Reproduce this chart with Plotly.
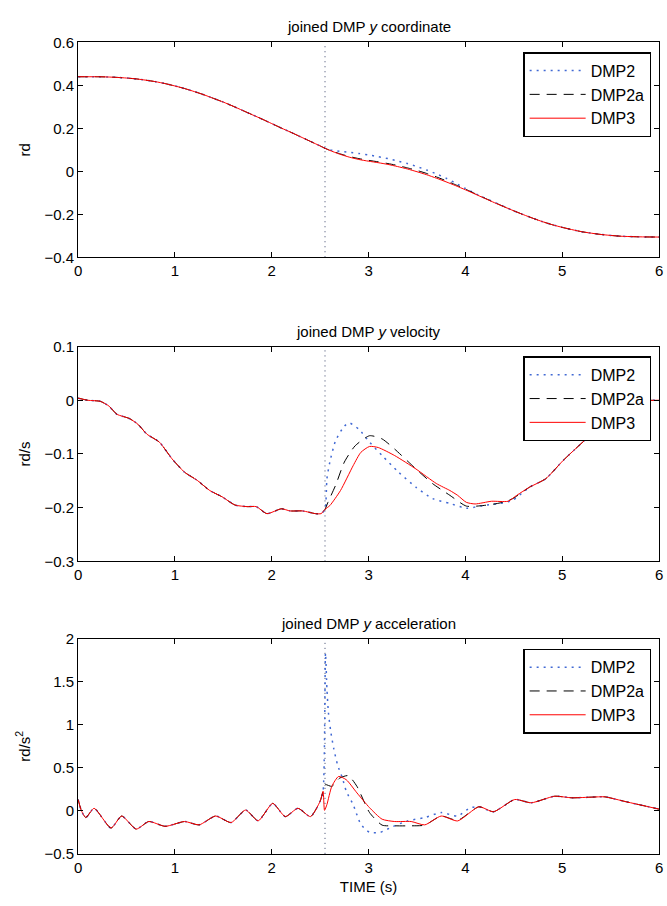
import plotly.graph_objects as go
from plotly.subplots import make_subplots

JOIN_TIME = 2.55
SERIES = ["DMP2", "DMP2a", "DMP3"]
TITLES = ["joined DMP <i>y</i> coordinate", "joined DMP <i>y</i> velocity",
          "joined DMP <i>y</i> acceleration"]
Y_LABELS = ["rd", "rd/s", "rd/s<sup>2</sup>"]
X_LABEL = "TIME (s)"

# ---------------- position (rd) ----------------
T_POS_PRE = [0, 0.1, 0.2, 0.3, 0.4, 0.5, 0.6, 0.7, 0.8, 0.9, 1.0, 1.1, 1.2, 1.3, 1.4,
             1.5, 1.6, 1.7, 1.8, 1.9, 2.0, 2.1, 2.2, 2.3, 2.4, 2.5]
POS_PRE = [0.440, 0.440, 0.440, 0.439, 0.437, 0.434, 0.430, 0.424, 0.417, 0.408, 0.397,
           0.385, 0.371, 0.356, 0.339, 0.322, 0.303, 0.283, 0.263, 0.243, 0.222, 0.201,
           0.181, 0.160, 0.139, 0.118]
T_POS_POST = [2.55, 2.6, 2.7, 2.8, 2.9, 3.0, 3.1, 3.2, 3.3, 3.4, 3.5, 3.6, 3.7, 3.8, 3.9,
              4.0, 4.1, 4.2, 4.3, 4.4, 4.5, 4.6, 4.7, 4.8, 4.9, 5.0, 5.2, 5.4, 5.6, 5.8, 6.0]
POS_DMP2_POST = [0.107, 0.100, 0.093, 0.088, 0.083, 0.076, 0.068, 0.059, 0.048, 0.036,
                 0.022, 0.006, -0.012, -0.032, -0.055, -0.080, -0.103, -0.124, -0.144,
                 -0.164, -0.184, -0.202, -0.219, -0.235, -0.249, -0.261, -0.281, -0.294,
                 -0.302, -0.305, -0.306]
POS_DMP2A_POST = [0.107, 0.098, 0.082, 0.069, 0.059, 0.051, 0.044, 0.036, 0.027, 0.016,
                  0.004, -0.010, -0.026, -0.044, -0.063, -0.083, -0.104, -0.125, -0.145,
                  -0.165, -0.184, -0.202, -0.219, -0.235, -0.249, -0.261, -0.281, -0.294,
                  -0.302, -0.305, -0.306]
POS_DMP3_POST = [0.107, 0.097, 0.080, 0.066, 0.055, 0.047, 0.040, 0.032, 0.022, 0.011,
                 -0.002, -0.016, -0.032, -0.049, -0.067, -0.086, -0.106, -0.126, -0.146,
                 -0.165, -0.184, -0.202, -0.219, -0.235, -0.249, -0.261, -0.281, -0.294,
                 -0.302, -0.305, -0.306]

# ---------------- velocity (rd/s) ----------------
T_VEL_PRE = [0, 0.1, 0.23, 0.32, 0.4, 0.53, 0.62, 0.71, 0.84, 0.97, 1.1, 1.23, 1.36, 1.49,
             1.62, 1.75, 1.84, 1.95, 2.1, 2.19, 2.32, 2.45, 2.51]
VEL_PRE = [0.004, 0.0, -0.002, -0.011, -0.026, -0.034, -0.045, -0.063, -0.078, -0.109,
           -0.134, -0.149, -0.168, -0.180, -0.195, -0.198, -0.198, -0.211, -0.202, -0.206,
           -0.206, -0.211, -0.211]
T_VEL_TAIL = [4.66, 4.83, 5.01, 5.23, 5.49, 5.62, 5.75, 6.0]
VEL_TAIL = [-0.162, -0.146, -0.112, -0.075, -0.035, -0.013, -0.002, 0.0]
T_VEL_DMP2_POST = [2.55, 2.57, 2.6, 2.66, 2.75, 2.8, 2.9, 3.01, 3.14, 3.31, 3.49, 3.66,
                   3.84, 4.01, 4.18, 4.36, 4.49]
VEL_DMP2_POST = [-0.203, -0.146, -0.115, -0.075, -0.048, -0.042, -0.054, -0.078, -0.103,
                 -0.134, -0.162, -0.183, -0.192, -0.201, -0.196, -0.192, -0.186]
T_VEL_DMP2A_POST = [2.55, 2.58, 2.66, 2.75, 2.86, 3.01, 3.14, 3.27, 3.49, 3.66, 3.84,
                    4.01, 4.18, 4.36, 4.49]
VEL_DMP2A_POST = [-0.203, -0.190, -0.158, -0.115, -0.085, -0.066, -0.072, -0.091, -0.128,
                  -0.155, -0.177, -0.197, -0.196, -0.191, -0.183]
T_VEL_DMP3_POST = [2.55, 2.6, 2.71, 2.84, 2.92, 3.01, 3.1, 3.27, 3.49, 3.7, 3.84, 3.92,
                   4.01, 4.1, 4.27, 4.44, 4.53]
VEL_DMP3_POST = [-0.203, -0.196, -0.168, -0.122, -0.097, -0.086, -0.088, -0.103, -0.128,
                 -0.155, -0.168, -0.177, -0.190, -0.193, -0.188, -0.188, -0.177]

# ---------------- acceleration (rd/s^2) ----------------
T_ACC_PRE = [0, 0.035, 0.08, 0.165, 0.34, 0.45, 0.6, 0.73, 0.9, 1.1, 1.25, 1.42, 1.58,
             1.73, 1.86, 2.01, 2.14, 2.27, 2.4, 2.5, 2.53]
ACC_PRE = [0.132, 0.0, -0.078, 0.03, -0.2, -0.06, -0.212, -0.124, -0.18, -0.124, -0.163,
           -0.06, -0.136, 0.01, -0.116, 0.087, -0.067, 0.03, -0.067, 0.113, 0.228]
T_ACC_TAIL = [4.29, 4.51, 4.68, 4.92, 5.1, 5.31, 5.44, 5.66, 6.0]
ACC_TAIL = [-0.01, 0.132, 0.094, 0.17, 0.152, 0.16, 0.163, 0.106, 0.02]
T_ACC_DMP2_POST = [2.555, 2.57, 2.585, 2.61, 2.64, 2.68, 2.73, 2.77, 2.84, 2.92, 3.01,
                   3.12, 3.23, 3.4, 3.58, 3.75, 3.92, 4.05, 4.14]
ACC_DMP2_POST = [1.835, 1.415, 1.147, 0.917, 0.726, 0.534, 0.381, 0.228, 0.075, -0.155,
                 -0.25, -0.25, -0.193, -0.117, -0.078, -0.02, -0.06, 0.037, 0.048]
T_ACC_DMP2A_POST = [2.555, 2.62, 2.7, 2.79, 2.88, 3.01, 3.14, 3.27, 3.44, 3.58, 3.75,
                    3.92, 4.14]
ACC_DMP2A_POST = [0.305, 0.285, 0.38, 0.41, 0.285, -0.02, -0.166, -0.174, -0.174, -0.166,
                  -0.06, -0.11, 0.048]
T_ACC_DMP3_POST = [2.545, 2.57, 2.62, 2.69, 2.77, 2.88, 3.01, 3.14, 3.27, 3.44, 3.58,
                   3.75, 3.92, 4.14]
ACC_DMP3_POST = [0.006, 0.075, 0.285, 0.4, 0.362, 0.209, 0.037, -0.097, -0.124, -0.124,
                 -0.163, -0.06, -0.117, 0.048]

X_RANGE = [0, 6]
Y_RANGES = [[-0.4, 0.6], [-0.3, 0.1], [-0.5, 2]]
Y_DTICKS = [0.2, 0.1, 0.5]

STYLE = {
    "DMP2": dict(color="#4169d4", width=1.5, dash="2px,5px"),
    "DMP2a": dict(color="black", width=1, dash="10px,7px"),
    "DMP3": dict(color="red", width=1, dash="solid"),
}

panels = [
    {"DMP2": (T_POS_PRE + T_POS_POST, POS_PRE + POS_DMP2_POST),
     "DMP2a": (T_POS_PRE + T_POS_POST, POS_PRE + POS_DMP2A_POST),
     "DMP3": (T_POS_PRE + T_POS_POST, POS_PRE + POS_DMP3_POST)},
    {"DMP2": (T_VEL_PRE + T_VEL_DMP2_POST + T_VEL_TAIL, VEL_PRE + VEL_DMP2_POST + VEL_TAIL),
     "DMP2a": (T_VEL_PRE + T_VEL_DMP2A_POST + T_VEL_TAIL, VEL_PRE + VEL_DMP2A_POST + VEL_TAIL),
     "DMP3": (T_VEL_PRE + T_VEL_DMP3_POST + T_VEL_TAIL, VEL_PRE + VEL_DMP3_POST + VEL_TAIL)},
    {"DMP2": (T_ACC_PRE + T_ACC_DMP2_POST + T_ACC_TAIL, ACC_PRE + ACC_DMP2_POST + ACC_TAIL),
     "DMP2a": (T_ACC_PRE + T_ACC_DMP2A_POST + T_ACC_TAIL, ACC_PRE + ACC_DMP2A_POST + ACC_TAIL),
     "DMP3": (T_ACC_PRE + T_ACC_DMP3_POST + T_ACC_TAIL, ACC_PRE + ACC_DMP3_POST + ACC_TAIL)},
]

W, H = 667, 906
X_DOM = [75 / W, 663 / W]
Y_DOMS = [[1 - 253 / H, 1 - 34 / H], [1 - 563 / H, 1 - 344 / H], [1 - 861 / H, 1 - 642 / H]]
LEGEND_TOPS = [44, 354, 652]

fig = make_subplots(rows=3, cols=1)
legend_names = ["legend", "legend2", "legend3"]

for i, panel in enumerate(panels):
    for name in SERIES:
        xs, ys = panel[name]
        fig.add_trace(go.Scatter(
            x=xs, y=ys, mode="lines", name=name,
            line=dict(shape="spline", smoothing=0.6, **STYLE[name]),
            legend=legend_names[i], showlegend=True,
        ), row=i + 1, col=1)
    fig.add_vline(x=JOIN_TIME, line=dict(color="#3a4468", width=1, dash="1px,4px"),
                  layer="below", row=i + 1, col=1)

axis_common = dict(showline=True, linecolor="black", linewidth=1, mirror="ticks",
                   ticks="inside", ticklen=5, tickcolor="black", showgrid=False,
                   zeroline=False, tickfont=dict(size=15, color="black"),
                   ticklabeloverflow="allow")

layout = dict(width=W, height=H, margin=dict(l=0, r=0, t=0, b=0),
              plot_bgcolor="white", paper_bgcolor="white",
              font=dict(family="Liberation Sans, Arial, sans-serif", color="black", size=15))
for i in range(3):
    sfx = "" if i == 0 else str(i + 1)
    xa = dict(axis_common, domain=X_DOM, range=X_RANGE, dtick=1, tick0=0)
    if i == 2:
        xa["title"] = dict(text=X_LABEL, font=dict(size=15), standoff=6)
    ya = dict(axis_common, domain=Y_DOMS[i], range=Y_RANGES[i], dtick=Y_DTICKS[i],
              tick0=0, title=dict(text=Y_LABELS[i], font=dict(size=15), standoff=10))
    layout["xaxis" + sfx] = xa
    layout["yaxis" + sfx] = ya
    layout[legend_names[i]] = dict(
        x=655 / W, xanchor="right", y=1 - LEGEND_TOPS[i] / H, yanchor="top",
        bordercolor="black", borderwidth=1.5, bgcolor="white",
        font=dict(size=16, color="black"), tracegroupgap=0, itemwidth=56)
fig.update_layout(**layout)

for i in range(3):
    sfx = "" if i == 0 else str(i + 1)
    fig.add_annotation(text=TITLES[i], xref="x" + sfx + " domain", yref="y" + sfx + " domain",
                       x=0.5, y=1, xanchor="center", yanchor="bottom", yshift=5,
                       showarrow=False, font=dict(size=15, color="black"))

fig.write_html("out.html", config={"displayModeBar": False},
               post_script="document.body.style.margin='0';document.body.style.padding='0';"
                           "document.documentElement.style.overflow='hidden';")
